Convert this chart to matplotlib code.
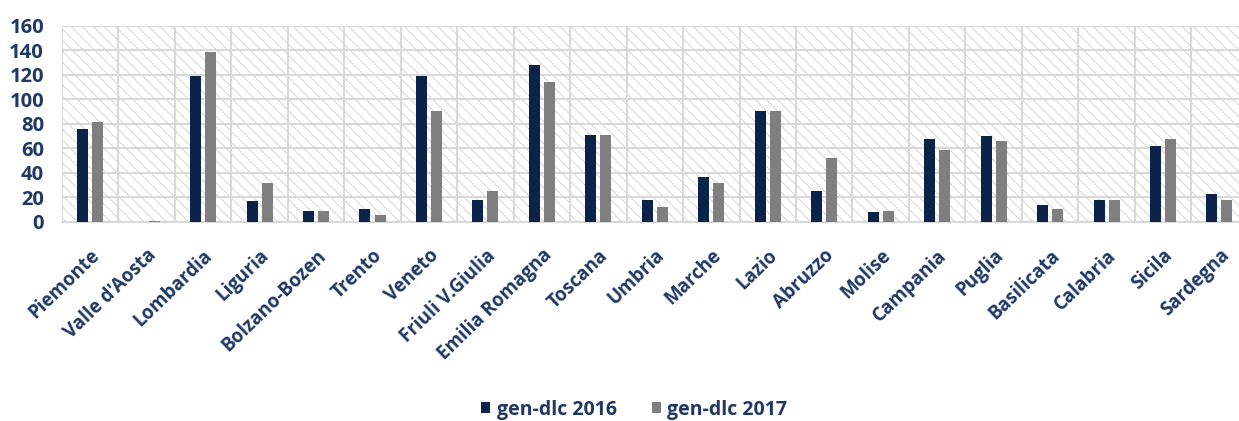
import numpy as np
import matplotlib
matplotlib.use("Agg")
import matplotlib.pyplot as plt
from matplotlib.patches import Rectangle

# regioni e valori
regions = ["Piemonte", "Valle d'Aosta", "Lombardia", "Liguria", "Bolzano-Bozen",
           "Trento", "Veneto", "Friuli V.Giulia", "Emilia Romagna", "Toscana",
           "Umbria", "Marche", "Lazio", "Abruzzo", "Molise", "Campania",
           "Puglia", "Basilicata", "Calabria", "Sicila", "Sardegna"]
dlc_2016 = [76, 0, 119, 17, 9, 11, 119, 18, 128, 71, 18, 37, 91, 25, 8, 68, 70, 14, 18, 62, 23]
dlc_2017 = [82, 1, 139, 32, 9, 6, 91, 25, 114, 71, 12, 32, 91, 52, 9, 59, 66, 11, 18, 68, 18]
y_ticks = [0, 20, 40, 60, 80, 100, 120, 140, 160]

navy = "#0B2349"
grey = "#7F7F7F"
text_col = "#1F3864"

plt.rcParams['font.family'] = ['Open Sans', 'DejaVu Sans']
plt.rcParams['hatch.linewidth'] = 0.7

fig = plt.figure(figsize=(12.39, 4.21), dpi=100)
ax = fig.add_axes([0.050, 0.4727, 0.957, 0.4656])

# sfondo tratteggiato
bg = Rectangle((0, 0), 1, 1, transform=ax.transAxes, facecolor="white",
               edgecolor="#D6D6D6", linewidth=0, hatch="\\" * 3, zorder=0)
ax.add_patch(bg)

x = np.arange(len(regions))
w = 0.195
off = 0.133
ax.bar(x - off, dlc_2016, width=w, color=navy, label="gen-dlc 2016", zorder=3)
ax.bar(x + off, dlc_2017, width=w, color=grey, label="gen-dlc 2017", zorder=3)

ax.set_xlim(-0.5, len(regions) - 0.5)
ax.set_ylim(0, 160)
ax.set_yticks(y_ticks)
ax.set_xticks(x)
ax.set_xticks(np.arange(-0.5, len(regions), 1), minor=True)

ax.grid(True, which="minor", axis="x", color="#D9D9D9", linewidth=1.5, zorder=1)
ax.grid(True, which="major", axis="y", color="#D9D9D9", linewidth=1.5, zorder=1)
ax.set_axisbelow(True)

ax.tick_params(axis="both", which="both", length=0)
ax.tick_params(axis="y", pad=13)
ax.tick_params(axis="x", pad=17)
ax.set_xticklabels(regions, rotation=44, ha="right", rotation_mode="anchor",
                   fontsize=13.5, fontweight="bold", color=text_col)
for lbl in ax.get_yticklabels():
    lbl.set_fontsize(14.5)
    lbl.set_fontweight("bold")
    lbl.set_color(text_col)

for s in ["top", "right", "left"]:
    ax.spines[s].set_visible(False)
ax.spines["bottom"].set_color("#D9D9D9")
ax.spines["bottom"].set_linewidth(1.5)

leg = fig.legend(loc="center", bbox_to_anchor=(0.512, 0.027), ncol=2, frameon=False,
                 handlelength=0.45, handleheight=0.45, handletextpad=0.35,
                 columnspacing=1.8, prop={"family": "Open Sans", "weight": "bold", "size": 14})
for t in leg.get_texts():
    t.set_color(text_col)

fig.savefig("out.png", dpi=100)
